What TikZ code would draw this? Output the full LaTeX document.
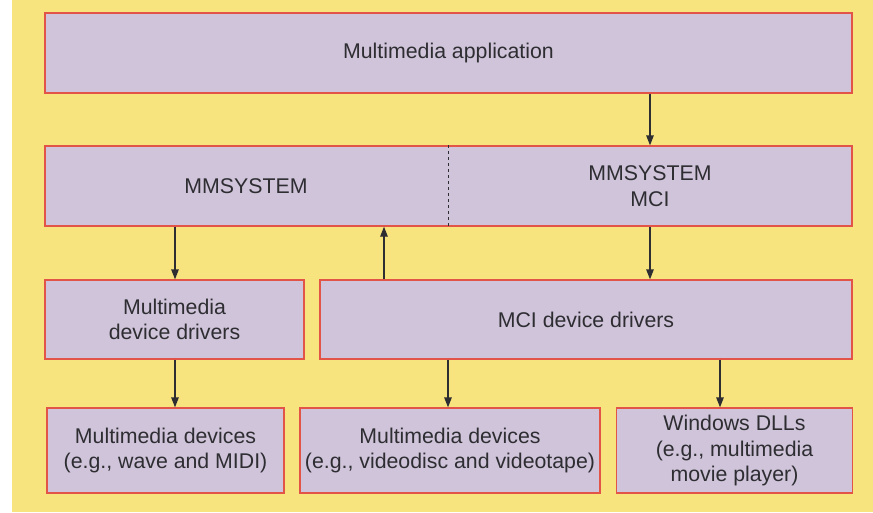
\documentclass[tikz,border=0pt]{standalone}
\usepackage{fontspec}
\setmainfont{Liberation Sans}
\usetikzlibrary{arrows.meta}
\definecolor{bgyellow}{RGB}{248,228,126}
\definecolor{boxfill}{RGB}{208,196,218}
\definecolor{boxline}{RGB}{226,84,72}
\definecolor{ink}{RGB}{45,45,50}
\begin{document}
\begin{tikzpicture}[x=1pt,y=-1pt,
  box/.style={draw=boxline,line width=1.3pt,fill=boxfill,rectangle,inner sep=0pt,
    text=ink,font=\fontsize{21.3}{25.5}\selectfont,align=center},
  lbl/.style={text=ink,font=\fontsize{21.3}{25.5}\selectfont,align=center,inner sep=0pt},
  arr/.style={draw=ink,line width=1.3pt,-{Triangle[length=10pt,width=7.5pt]}}]
\useasboundingbox (0,0) rectangle (873,512);
\fill[white] (0,0) rectangle (12,512);
\fill[bgyellow] (12,0) rectangle (873,512);
% boxes
\node[box,minimum width=807pt,minimum height=80pt] (top) at (448.5,53) {Multimedia application};
\node[box,minimum width=807pt,minimum height=80pt] (mid) at (448.5,186) {};
\node[box,minimum width=259pt,minimum height=79pt] (r3a) at (174.5,319.5) {Multimedia\\device drivers};
\node[box,minimum width=532pt,minimum height=79pt] (r3b) at (586,319.5) {MCI device drivers};
\node[box,minimum width=237pt,minimum height=85pt] (r4a) at (165.5,450.5) {Multimedia devices\\(e.g., wave and MIDI)};
\node[box,minimum width=300pt,minimum height=85pt] (r4b) at (450,450.5) {Multimedia devices\\(e.g., videodisc and videotape)};
\node[box,minimum width=236pt,minimum height=85pt] (r4c) at (734.5,450.5) {Windows DLLs\\(e.g., multimedia\\movie player)};
% middle texts
\node[lbl] (mms) at (246,186) {MMSYSTEM};
\node[lbl] (mci) at (650,186) {MMSYSTEM\\MCI};
\coordinate (div) at (448,0);
\draw[ink,line width=0.9pt,dash pattern=on 3pt off 3pt] (mid.north -| div) -- (mid.south -| div);
% connector x positions
\coordinate (xl) at (175,0);
\coordinate (xu) at (384,0);
\coordinate (xr) at (650,0);
\coordinate (xb) at (448,0);
\coordinate (xc) at (720,0);
% arrows
\draw[arr] (top.south -| xr) -- (mid.north -| xr);
\draw[arr] (mid.south -| xl) -- (r3a.north -| xl);
\draw[arr] (r3b.north -| xu) -- (mid.south -| xu);
\draw[arr] (mid.south -| xr) -- (r3b.north -| xr);
\draw[arr] (r3a.south -| xl) -- (r4a.north -| xl);
\draw[arr] (r3b.south -| xb) -- (r4b.north -| xb);
\draw[arr] (r3b.south -| xc) -- (r4c.north -| xc);
\end{tikzpicture}
\end{document}
